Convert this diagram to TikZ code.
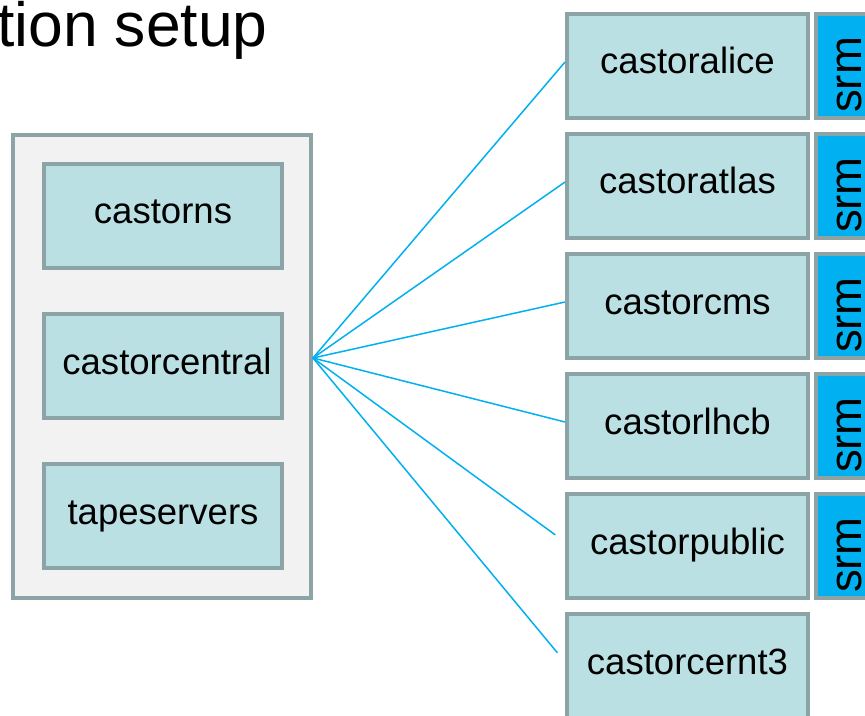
\documentclass[tikz,border=0pt]{standalone}
\usepackage{fontspec}
\setmainfont{Liberation Sans}
\usepackage{tikz}
\definecolor{framegray}{RGB}{140,164,166}
\definecolor{boxteal}{RGB}{186,224,227}
\definecolor{groupgray}{RGB}{242,242,242}
\definecolor{srmblue}{RGB}{0,176,240}

\begin{document}
\begin{tikzpicture}[x=0.02cm, y=-0.02cm,
    box/.style={draw=framegray, line width=0.08cm, fill=boxteal, font=\fontsize{20.8}{25}\selectfont, text height=0.52cm, text depth=0.2cm, minimum height=2.08cm, inner sep=0pt},
    srmbox/.style={draw=framegray, line width=0.08cm, fill=srmblue, minimum width=1.32cm, minimum height=2.08cm, inner sep=0pt},
    link/.style={srmblue, line width=0.03cm}]
    \useasboundingbox (0,0) rectangle (865,716);
    \clip (0,0) rectangle (865,716);
    % Title
    \node[anchor=base east, font=\fontsize{35.5}{40}\selectfont, inner sep=0pt] (title) at (268,47) {tion setup};

    % Central services
    \node[box, fill=groupgray, minimum width=5.96cm, minimum height=9.26cm] (group) at (162,366.5) {};
    \node[box, minimum width=4.76cm] (castorns) at (163,216) {castorns};
    \node[box, minimum width=4.76cm] (castorcentral) at (163,366) {\hspace{0.16cm}castorcentral};
    \node[box, minimum width=4.76cm] (tapeservers) at (163,516) {tapeservers};

    % Instances
    \foreach \name [count=\i] in {alice, atlas, cms, lhcb, public, cernt3} {
        \node[box, minimum width=4.82cm] (castor\name) at (687.5, {66+120*(\i-1)}) {castor\name};
    }
    \foreach \name [count=\i] in {alice, atlas, cms, lhcb, public} {
        \node[srmbox] (srm\name) at (849, {66+120*(\i-1)}) {};
        \node[rotate=90, anchor=base, inner sep=0pt, font=\fontsize{25.9}{30}\selectfont] (srmtext\name) at (861, {75+120*(\i-1)}) {srm};
    }

    % Links
    \coordinate (hub) at ([yshift=0.17cm]group.east);
    \foreach \name in {alice, atlas, cms, lhcb}
        \draw[link] (hub) -- ([yshift=0.08cm]castor\name.west);
    \foreach \name in {public, cernt3}
        \draw[link, shorten >=0.24cm] (hub) -- ([yshift=0.08cm]castor\name.west);
\end{tikzpicture}
\end{document}
